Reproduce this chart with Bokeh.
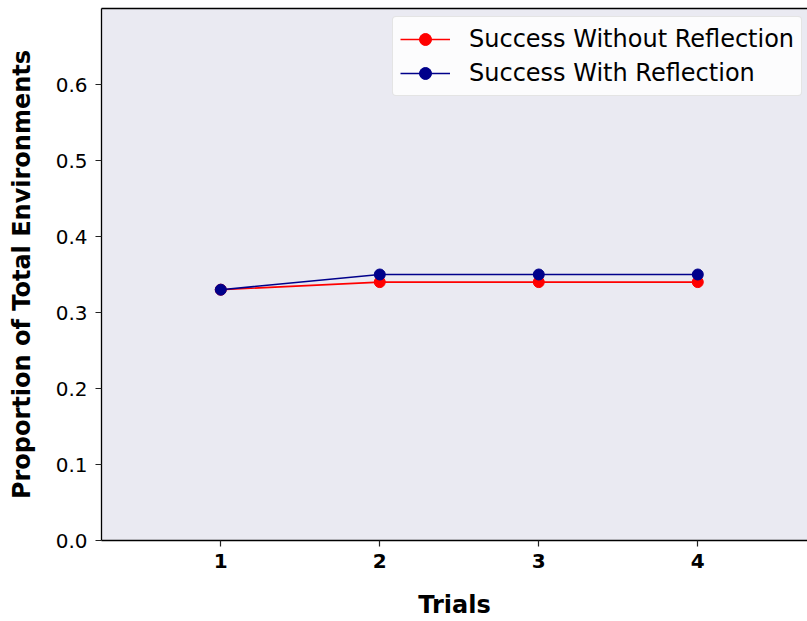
from bokeh.plotting import figure
from bokeh.models import Range1d, FixedTicker, LinearAxis, Legend, LegendItem, PrintfTickFormatter
from bokeh.embed import file_html
from bokeh.resources import INLINE

trials = [1, 2, 3, 4]
success_without = [0.33, 0.34, 0.34, 0.34]
success_with = [0.33, 0.35, 0.35, 0.35]
y_ticks = [0.0, 0.1, 0.2, 0.3, 0.4, 0.5, 0.6]

FONT = "DejaVu Sans"

p = figure(width=807, height=621, output_backend="svg", toolbar_location=None,
           x_range=Range1d(0.25, 4.69), y_range=Range1d(0.0, 0.7),
           min_border_left=101, min_border_right=0, min_border_top=8, min_border_bottom=80)
p.background_fill_color = "#EAEAF2"
p.border_fill_color = "white"
p.outline_line_color = None
p.grid.visible = False

xa = p.xaxis[0]
ya = p.yaxis[0]
xa.ticker = FixedTicker(ticks=trials)
ya.ticker = FixedTicker(ticks=y_ticks)
ya.formatter = PrintfTickFormatter(format="%.1f")
for ax in (xa, ya):
    ax.axis_line_color = "black"
    ax.axis_line_width = 1.3
    ax.major_tick_line_color = "#222222"
    ax.major_tick_line_width = 1.2
    ax.major_tick_out = 6
    ax.major_tick_in = 0
    ax.minor_tick_line_color = None
    ax.major_label_text_font = FONT
    ax.major_label_text_font_size = "20px"
    ax.major_label_text_color = "black"
    ax.axis_label_text_font = FONT
    ax.axis_label_text_font_size = "24px"
    ax.axis_label_text_font_style = "bold"
    ax.axis_label_text_color = "black"
xa.major_label_text_font_style = "bold"
xa.axis_label = "Trials"
ya.axis_label = "Proportion of Total Environments"
xa.major_label_standoff = 7
ya.major_label_standoff = 8
xa.axis_label_standoff = 20
ya.axis_label_standoff = 17

top = LinearAxis(ticker=FixedTicker(ticks=[]), major_label_text_font_size="0px",
                 major_label_standoff=0, major_tick_out=0, major_tick_in=0,
                 minor_tick_out=0, minor_tick_in=0, axis_line_color="black",
                 axis_line_width=1.3)
p.add_layout(top, "above")

r1 = p.line(trials, success_without, line_color="#FF0000", line_width=1.6)
c1 = p.scatter(trials, success_without, size=11, fill_color="#FF0000", line_color="#FF0000")
r2 = p.line(trials, success_with, line_color="#00008B", line_width=1.6)
c2 = p.scatter(trials, success_with, size=11, fill_color="#00008B", line_color="#00008B")

legend = Legend(items=[LegendItem(label="Success Without Reflection", renderers=[r1, c1]),
                       LegendItem(label="Success With Reflection", renderers=[r2, c2])],
                location=(291, 444))
legend.label_text_font = FONT
legend.label_text_font_size = "24px"
legend.label_text_color = "black"
legend.glyph_width = 50
legend.glyph_height = 30
legend.label_height = 30
legend.label_standoff = 19
legend.spacing = 4
legend.padding = 7
legend.margin = 0
legend.background_fill_color = "white"
legend.background_fill_alpha = 0.85
legend.border_line_color = "#CCCCCC"
legend.border_line_width = 1.2
legend.border_radius = 4
p.add_layout(legend, "center")

open("out.html", "w").write(file_html(p, INLINE))
